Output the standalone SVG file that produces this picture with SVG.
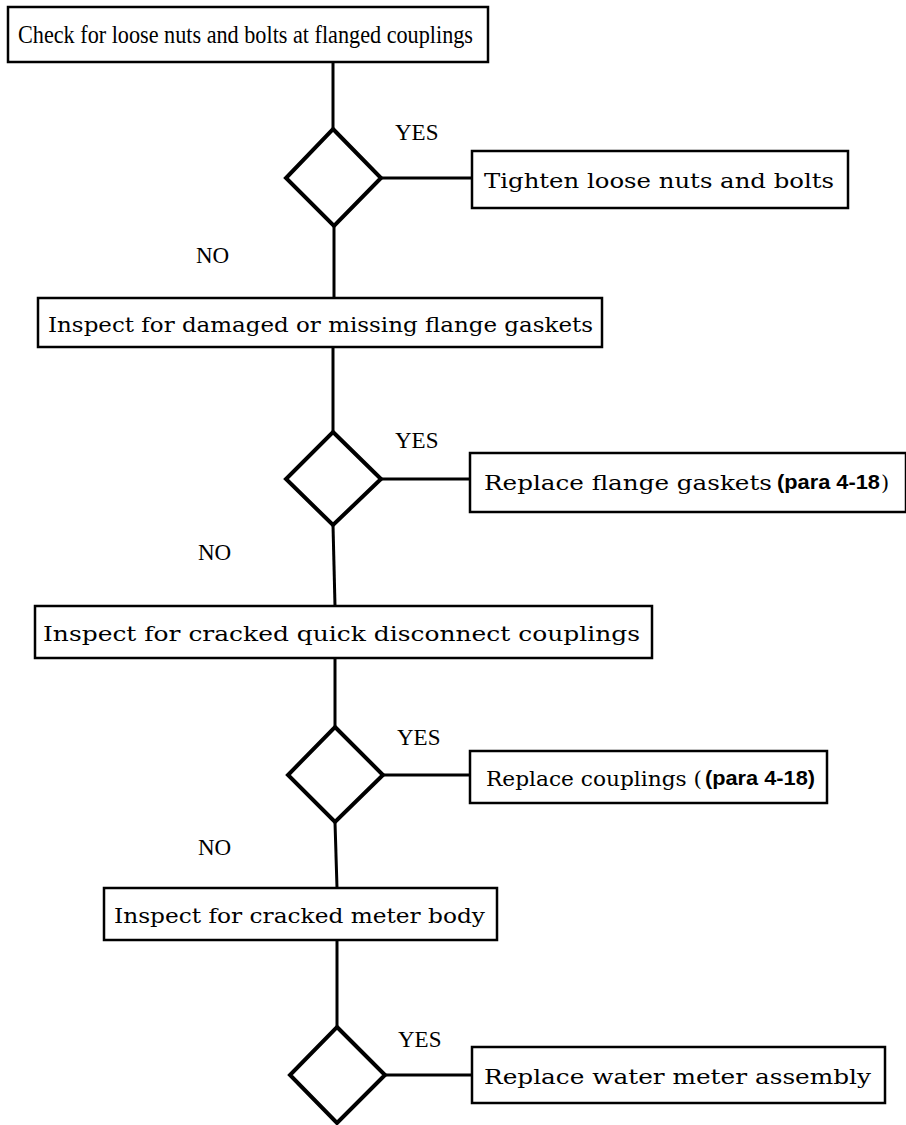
<svg xmlns="http://www.w3.org/2000/svg" width="906" height="1125" viewBox="0 0 906 1125">
<style>
.box{fill:#fff;stroke:#000;stroke-width:2.5}
.dia{fill:#fff;stroke:#000;stroke-width:4;stroke-linejoin:miter}
.ln{stroke:#000;stroke-width:3;fill:none}
.t{font-family:"DejaVu Serif","Liberation Serif",serif;font-size:21px;fill:#000}
.t1{font-family:"Liberation Serif",serif;font-size:25px;fill:#000}
.l{font-family:"Liberation Serif",serif;font-size:23px;fill:#000}
.b{font-family:"Liberation Sans",sans-serif;font-weight:bold;font-size:20px;fill:#000}
</style>
<rect width="906" height="1125" fill="#fff"/>
<g id="connectors">
<line class="ln" x1="333" y1="62" x2="333" y2="129"/>
<line class="ln" x1="381" y1="178" x2="472" y2="178"/>
<line class="ln" x1="334" y1="226" x2="334" y2="298"/>
<line class="ln" x1="333" y1="347" x2="333" y2="432"/>
<line class="ln" x1="381" y1="479" x2="470" y2="479"/>
<line class="ln" x1="333" y1="525" x2="335" y2="606"/>
<line class="ln" x1="335" y1="658" x2="335" y2="727"/>
<line class="ln" x1="383" y1="775" x2="470" y2="775"/>
<line class="ln" x1="335" y1="822" x2="337" y2="888"/>
<line class="ln" x1="337" y1="940" x2="337" y2="1027"/>
<line class="ln" x1="385" y1="1075" x2="472" y2="1075"/>
</g>
<g id="labels">
<text class="l" x="395" y="140">YES</text>
<text class="l" x="196" y="263">NO</text>
<text class="l" x="395" y="448">YES</text>
<text class="l" x="198" y="560">NO</text>
<text class="l" x="397" y="745">YES</text>
<text class="l" x="198" y="855">NO</text>
<text class="l" x="398" y="1047">YES</text>
</g>
<g id="n1"><rect class="box" x="8" y="7" width="480" height="55"/><text class="t1" x="18" y="43" textLength="455" lengthAdjust="spacingAndGlyphs">Check for loose nuts and bolts at flanged couplings</text></g>
<g id="d1"><polygon class="dia" points="333,129 381,178 334,226 286,178"/></g>
<g id="n2"><rect class="box" x="472" y="151" width="376" height="57"/><text class="t" x="484" y="188" textLength="350" lengthAdjust="spacingAndGlyphs">Tighten loose nuts and bolts</text></g>
<g id="n3"><rect class="box" x="38" y="298" width="564" height="49"/><text class="t" x="48" y="332" textLength="545" lengthAdjust="spacingAndGlyphs">Inspect for damaged or missing flange gaskets</text></g>
<g id="d2"><polygon class="dia" points="333,432 381,479 333,525 286,479"/></g>
<g id="n4"><rect class="box" x="470" y="453" width="436" height="59"/><text class="t" x="484" y="490" textLength="288" lengthAdjust="spacingAndGlyphs">Replace flange gaskets</text><text class="b" x="777" y="489" textLength="103" lengthAdjust="spacingAndGlyphs">(para 4-18</text><text class="t" x="881" y="490">)</text></g>
<g id="d3"><polygon class="dia" points="335,727 383,775 335,822 288,775"/></g>
<g id="n5"><rect class="box" x="35" y="606" width="617" height="52"/><text class="t" x="43" y="641" textLength="597" lengthAdjust="spacingAndGlyphs">Inspect for cracked quick disconnect couplings</text></g>
<g id="n6"><rect class="box" x="470" y="751" width="357" height="52"/><text class="t" x="486" y="786" textLength="216" lengthAdjust="spacingAndGlyphs">Replace couplings (</text><text class="b" x="705" y="785" textLength="110" lengthAdjust="spacingAndGlyphs">(para 4-18)</text></g>
<g id="n7"><rect class="box" x="104" y="888" width="393" height="52"/><text class="t" x="114" y="923" textLength="371" lengthAdjust="spacingAndGlyphs">Inspect for cracked meter body</text></g>
<g id="d4"><polygon class="dia" points="337,1027 385,1075 337,1123 290,1075"/></g>
<g id="n8"><rect class="box" x="472" y="1047" width="413" height="56"/><text class="t" x="484" y="1084" textLength="387" lengthAdjust="spacingAndGlyphs">Replace water meter assembly</text></g>
</svg>
